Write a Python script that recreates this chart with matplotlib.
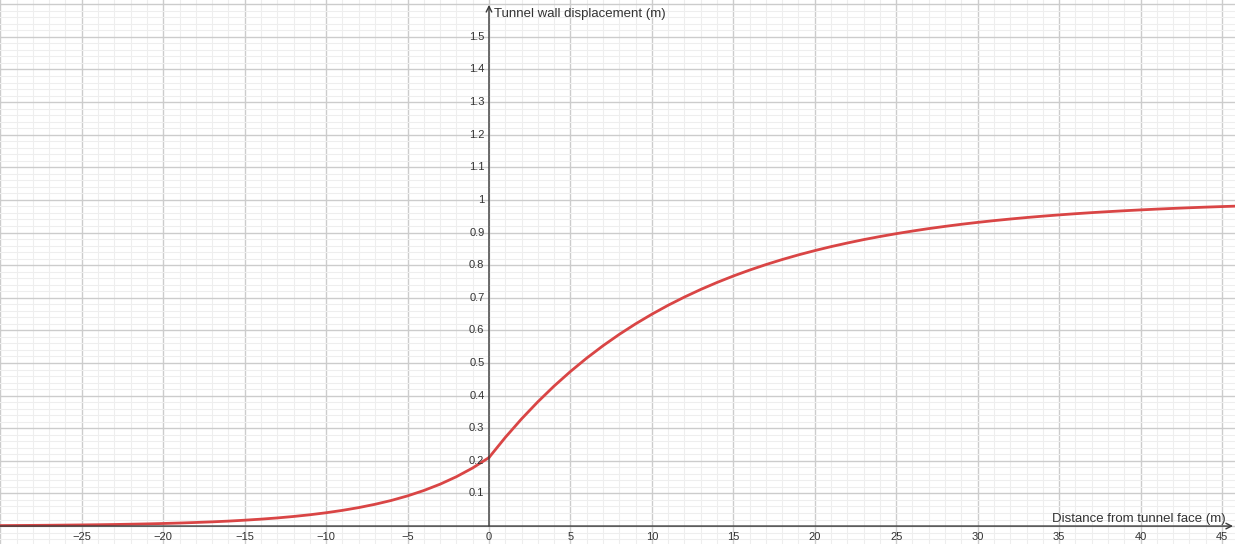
import matplotlib.pyplot as plt
from matplotlib.ticker import MultipleLocator

# Longitudinal displacement profile: distance from face (m) vs wall displacement (m)
dist_behind = [-30, -29, -28, -27, -26, -25, -24, -23, -22, -21, -20, -19, -18, -17, -16,
               -15, -14, -13, -12, -11, -10, -9, -8, -7, -6, -5, -4, -3, -2, -1, 0]
disp_behind = [0.0015, 0.0018, 0.0021, 0.0025, 0.0030, 0.0035, 0.0041, 0.0048, 0.0057,
               0.0067, 0.0079, 0.0093, 0.0110, 0.0129, 0.0152, 0.0180, 0.0212, 0.0249,
               0.0294, 0.0346, 0.0408, 0.0481, 0.0566, 0.0667, 0.0785, 0.0925, 0.1090,
               0.1284, 0.1513, 0.1782, 0.2100]
dist_ahead = list(range(0, 47))
disp_ahead = [0.2100, 0.2717, 0.3286, 0.3810, 0.4294, 0.4739, 0.5150, 0.5529, 0.5878,
              0.6200, 0.6496, 0.6770, 0.7022, 0.7255, 0.7469, 0.7667, 0.7849, 0.8017,
              0.8172, 0.8315, 0.8446, 0.8568, 0.8679, 0.8783, 0.8877, 0.8965, 0.9046,
              0.9121, 0.9189, 0.9253, 0.9311, 0.9365, 0.9414, 0.9460, 0.9502, 0.9541,
              0.9577, 0.9610, 0.9640, 0.9668, 0.9694, 0.9718, 0.9740, 0.9760, 0.9779,
              0.9796, 0.9812]

x_ticks = [-25, -20, -15, -10, -5, 0, 5, 10, 15, 20, 25, 30, 35, 40, 45]
y_ticks = [0.1, 0.2, 0.3, 0.4, 0.5, 0.6, 0.7, 0.8, 0.9, 1.0, 1.1, 1.2, 1.3, 1.4, 1.5]

plt.rcParams['font.family'] = ['Liberation Sans', 'DejaVu Sans']

fig = plt.figure(figsize=(12.35, 5.44), dpi=100)
ax = fig.add_axes([0, 0, 1, 1])
ax.set_xlim(-30.02, 45.8)
ax.set_ylim(-0.055, 1.613)

# grid: major every 5 m / 0.1 m, minor every 1 m / 0.02 m
ax.xaxis.set_major_locator(MultipleLocator(5))
ax.xaxis.set_minor_locator(MultipleLocator(1))
ax.yaxis.set_major_locator(MultipleLocator(0.1))
ax.yaxis.set_minor_locator(MultipleLocator(0.02))
ax.grid(which='major', color='#cccccc', lw=1.0)
ax.grid(which='minor', color='#eeeeee', lw=0.8)
ax.set_axisbelow(True)
ax.tick_params(which='both', length=0, labelbottom=False, labelleft=False)
for s in ax.spines.values():
    s.set_visible(False)

# axes with arrow heads
ax.annotate('', xy=(45.68, 0), xytext=(-30.02, 0),
            arrowprops=dict(arrowstyle='->', lw=1.0, color='#3a3a3a', shrinkA=0, shrinkB=0))
ax.annotate('', xy=(0, 1.598), xytext=(0, 0),
            arrowprops=dict(arrowstyle='->', lw=1.0, color='#3a3a3a', shrinkA=0, shrinkB=0))

# tick labels
for t in x_ticks:
    lbl = str(t).replace('-', '\u2212')
    ax.text(t, -0.018, lbl, ha='center', va='top', fontsize=8, color='#333333')
for t in y_ticks:
    lbl = '1' if abs(t - 1) < 1e-9 else f'{t:.1f}'
    ax.text(-0.28, t, lbl, ha='right', va='center', fontsize=8, color='#333333')

ax.text(0.3, 1.57, 'Tunnel wall displacement (m)', ha='left', va='center',
        fontsize=9.5, color='#333333')
ax.text(45.2, 0.022, 'Distance from tunnel face (m)', ha='right', va='center',
        fontsize=9.5, color='#333333')

# displacement curve
ax.plot(dist_behind, disp_behind, color='#d94545', lw=2.0, solid_capstyle='round')
ax.plot(dist_ahead, disp_ahead, color='#d94545', lw=2.0, solid_capstyle='round')

fig.savefig('out.png', dpi=100)
